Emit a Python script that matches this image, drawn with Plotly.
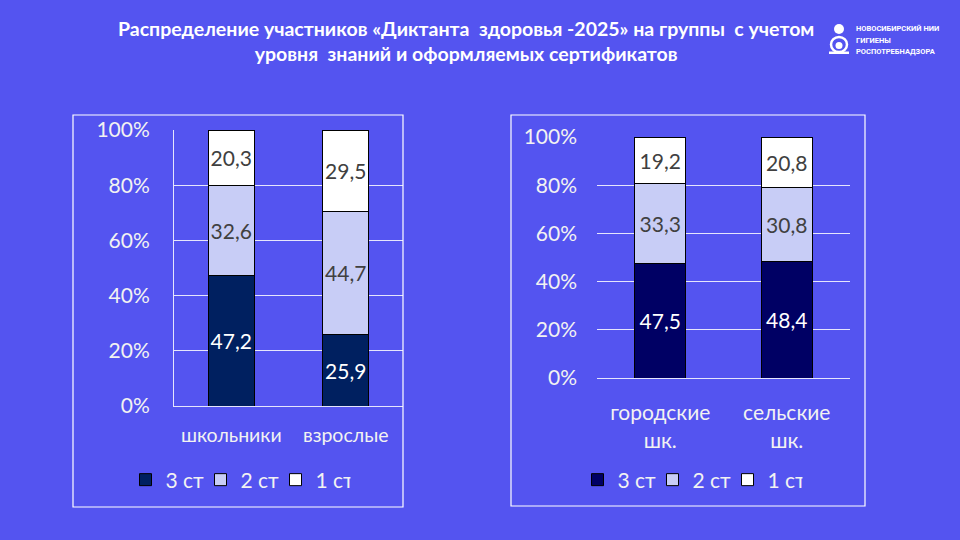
import plotly.graph_objects as go

# ---- data ----
left_categories = ["школьники", "взрослые"]
left_st3 = [47.2, 25.9]
left_st2 = [32.6, 44.7]
left_st1 = [20.3, 29.5]

right_categories = ["городские<br>шк.", "сельские<br>шк."]
right_st3 = [47.5, 48.4]
right_st2 = [33.3, 30.8]
right_st1 = [19.2, 20.8]

series_names = ["3 ст", "2 ст", "1 ст"]
y_ticks = [0, 20, 40, 60, 80, 100]

title_text = ("Распределение участников «Диктанта  здоровья -2025» на группы  с учетом<br>"
              "уровня  знаний и оформляемых сертификатов")
logo_lines = ["НОВОСИБИРСКИЙ НИИ", "ГИГИЕНЫ", "РОСПОТРЕБНАДЗОРА"]

# ---- styles ----
W, H = 960, 540
BG = "rgb(84,84,240)"
LIGHT = "rgb(200,205,246)"
DARK_L = "rgb(0,32,96)"
DARK_R = "rgb(0,0,100)"
FONT = "Lato"
TXT = "rgb(242,242,242)"


def px(x):
    return x / W


def py(y):
    return 1 - y / H


def fmt(vals):
    return [f"{v:.1f}".replace(".", ",") for v in vals]


fig = go.Figure()

def add_group(cats, s3, s2, s1, dark, xa, ya, leg):
    data = [s3, s2, s1]
    colors = [dark, LIGHT, "white"]
    tcolors = ["white", "rgb(64,64,64)", "rgb(64,64,64)"]
    for name, vals, col, tc in zip(series_names, data, colors, tcolors):
        fig.add_trace(go.Bar(
            x=cats, y=vals, name=name, xaxis=xa, yaxis=ya, legend=leg,
            marker=dict(color=col, line=dict(color="black", width=1)),
            text=fmt(vals), textposition="inside", insidetextanchor="middle",
            textangle=0, constraintext="none",
            textfont=dict(family=FONT, size=21, color=tc),
            width=0.4, hoverinfo="skip",
        ))

add_group(left_categories, left_st3, left_st2, left_st1, DARK_L, "x", "y", "legend")
add_group(right_categories, right_st3, right_st2, right_st1, DARK_R, "x2", "y2", "legend2")

axis_font = dict(family=FONT, size=21, color=TXT)

yaxis_common = dict(
    range=[0, 100], tickvals=y_ticks, ticktext=[f"{t}%" for t in y_ticks],
    showgrid=True, gridcolor="rgba(255,255,255,0.85)", gridwidth=1,
    zeroline=False, tickfont=axis_font, ticklabelstandoff=19, fixedrange=True,
    automargin=False,
)

legend_common = dict(orientation="h", yanchor="middle", traceorder="normal",
                     font=dict(family=FONT, size=21, color=TXT),
                     bgcolor="rgba(0,0,0,0)", itemwidth=30,
                     entrywidthmode="pixels", entrywidth=30)

fig.update_layout(
    width=W, height=H, paper_bgcolor=BG, plot_bgcolor=BG,
    margin=dict(l=0, r=0, t=0, b=0, pad=0, autoexpand=False),
    barmode="stack", barnorm="percent", bargap=0.6,
    showlegend=True,
    xaxis=dict(domain=[px(174), px(403)], anchor="y", showgrid=False, automargin=False,
               tickfont=dict(family=FONT, size=19.5, color=TXT), ticklabelstandoff=12,
               showline=True, linecolor="rgba(255,255,255,0.85)", linewidth=1, fixedrange=True),
    yaxis=dict(domain=[py(406), py(130)], anchor="x", showline=True,
               linecolor="rgba(255,255,255,0.85)", linewidth=1, **yaxis_common),
    xaxis2=dict(domain=[px(597), px(850)], anchor="y2", showgrid=False, automargin=False,
                tickfont=axis_font, ticklabelstandoff=16, showline=True,
                linecolor="rgba(255,255,255,0.85)", linewidth=1, fixedrange=True),
    yaxis2=dict(domain=[py(378), py(137)], anchor="x2", showline=False, **yaxis_common),
    legend=dict(x=px(238), xanchor="center", y=py(480), **legend_common),
    legend2=dict(x=px(690), xanchor="center", y=py(480), **legend_common),
)

shapes = []
# chart boxes
shapes.append(dict(type="rect", xref="paper", yref="paper",
                   x0=px(73), x1=px(403), y0=py(507), y1=py(115),
                   line=dict(color="white", width=1.2)))
shapes.append(dict(type="rect", xref="paper", yref="paper",
                   x0=px(511), x1=px(865), y0=py(506), y1=py(115),
                   line=dict(color="white", width=1.2)))
# logo
shapes.append(dict(type="circle", xref="paper", yref="paper",
                   x0=px(834), x1=px(844), y0=py(34), y1=py(24),
                   fillcolor="white", line=dict(width=0)))
shapes.append(dict(type="circle", xref="paper", yref="paper",
                   x0=px(831), x1=px(847), y0=py(52), y1=py(37),
                   fillcolor="rgba(0,0,0,0)", line=dict(color="white", width=2.5)))
shapes.append(dict(type="circle", xref="paper", yref="paper",
                   x0=px(835.5), x1=px(842.5), y0=py(49), y1=py(42),
                   fillcolor="white", line=dict(width=0)))
shapes.append(dict(type="rect", xref="paper", yref="paper",
                   x0=px(829), x1=px(849), y0=py(54), y1=py(51.5),
                   fillcolor="white", line=dict(width=0)))
fig.update_layout(shapes=shapes)

annotations = [
    dict(text=f"<b>{title_text}</b>", xref="paper", yref="paper",
         x=px(466), y=py(41), xanchor="center", yanchor="middle", showarrow=False,
         font=dict(family="Lato", size=19.5, color="white"), align="center"),
]
for i, line in enumerate(logo_lines):
    annotations.append(dict(text=f"<b>{line}</b>", xref="paper", yref="paper",
                            x=px(854), y=py(29 + 11 * i), xanchor="left", yanchor="middle",
                            showarrow=False, font=dict(family="Roboto", size=7.5, color="white")))
fig.update_layout(annotations=annotations)

fig.write_html("out.html", config={"displayModeBar": False},
               post_script="document.body.style.margin='0';")
